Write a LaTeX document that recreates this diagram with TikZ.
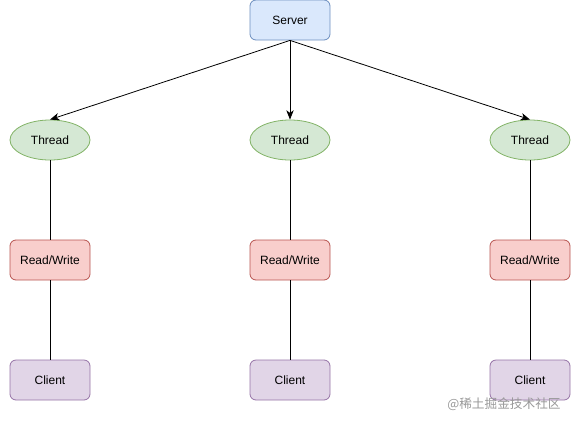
\documentclass[tikz,border=0pt]{standalone}
\usepackage{fontspec}
\setmainfont{Liberation Sans}
\newfontfamily\cjk{Noto Sans CJK SC}
\usetikzlibrary{shapes.geometric, positioning, arrows.meta}
\definecolor{srvfill}{HTML}{DAE8FC}
\definecolor{srvline}{HTML}{6C8EBF}
\definecolor{thrfill}{HTML}{D5E8D4}
\definecolor{thrline}{HTML}{82B366}
\definecolor{rwfill}{HTML}{F8CECC}
\definecolor{rwline}{HTML}{B85450}
\definecolor{clifill}{HTML}{E1D5E7}
\definecolor{cliline}{HTML}{9673A6}
\begin{document}
\begin{tikzpicture}[x=1pt,y=-1pt,
    every node/.style={font=\fontsize{9}{11}\selectfont, inner sep=0pt},
    box/.style={draw, rounded corners=4.5pt, minimum width=60pt, minimum height=30pt, line width=0.6pt},
    srvbox/.style={box, fill=srvfill, draw=srvline},
    rwbox/.style={box, fill=rwfill, draw=rwline},
    clibox/.style={box, fill=clifill, draw=cliline},
    thr/.style={ellipse, draw=thrline, fill=thrfill, minimum width=60pt, minimum height=30pt, line width=0.6pt},
    link/.style={line width=0.6pt},
    arr/.style={link, -{Stealth[length=7pt, width=5.5pt, inset=2pt]}}]
    \useasboundingbox (0,0) rectangle (428.25,316.5);
    % server
    \node[srvbox] (server) at (217.5,15) {Server};
    % one column for every thread
    \foreach \i/\xx in {1/37.5, 2/217.5, 3/397.5} {
        \node[thr] (thread\i) at (\xx,105) {Thread};
        \node[rwbox] (rw\i) at (\xx,195) {Read/Write};
        \node[clibox] (client\i) at (\xx,285) {Client};
        \draw[arr] (server.south) -- (thread\i.north);
        \draw[link] (thread\i) -- (rw\i);
        \draw[link] (rw\i) -- (client\i);
    }
    % watermark
    \node[text=black!40, font=\cjk\fontsize{9.5}{11}\selectfont] (mark) at (378,303) {@稀土掘金技术社区};
\end{tikzpicture}
\end{document}
